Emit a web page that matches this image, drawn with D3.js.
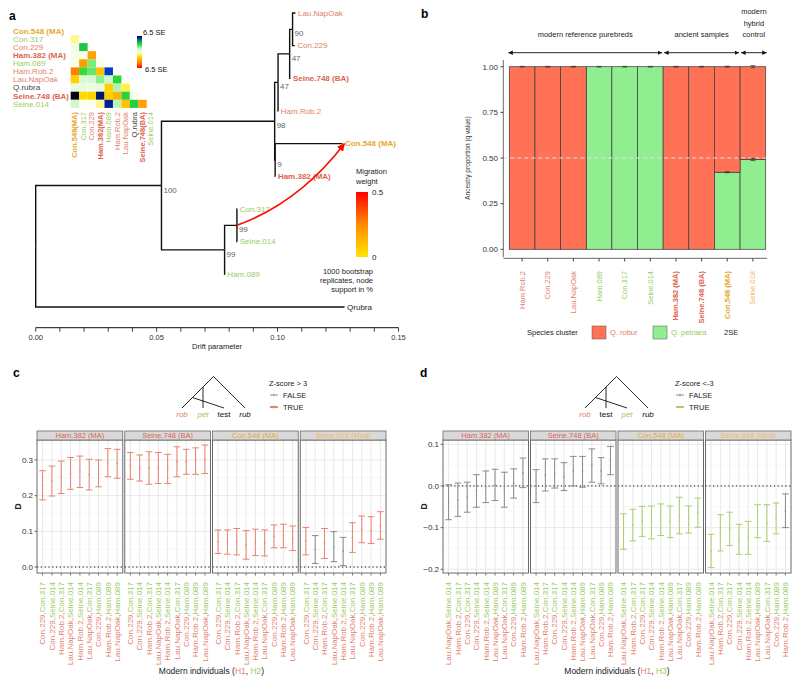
<!DOCTYPE html>
<html lang="en">
<head>
<meta charset="UTF-8">
<title>Oak ancestry figure</title>
<script src="https://d3js.org/d3.v7.min.js"></script>
<style>
  body { margin: 0; background: #fff; }
  svg { display: block; font-family: 'Liberation Sans', Arial, sans-serif; }
  .nar { font-family: 'Liberation Sans Narrow', 'Arial Narrow', 'Liberation Sans', Arial, sans-serif; }
</style>
</head>
<body>
<svg id="fig" width="800" height="687"></svg>
<script>
// ---------- data : panel a (TreeMix tree) ----------
const treeLeaves = ["Lau.NapOak", "Con.229", "Seine.748 (BA)", "Ham.Rob.2", "Con.548 (MA)",
  "Ham.382 (MA)", "Con.317", "Seine.014", "Ham.089", "Qrubra"];
const treeNode   = ["root", "N1", "N4", "N6", "N7", "N8", "Lau.NapOak", "Con.229", "Seine.748 (BA)", "Ham.Rob.2",
  "N5", "Con.548 (MA)", "Ham.382 (MA)", "N2", "N3", "Con.317", "Seine.014", "Ham.089", "Qrubra"];
const treeParent = [null, "root", "N1", "N4", "N6", "N7", "N8", "N8", "N7", "N6",
  "N4", "N5", "N5", "N1", "N2", "N3", "N3", "N2", "root"];
const treeDrift  = [0, 0.052, 0.0988, 0.1002, 0.1050, 0.1062, 0.1074, 0.1071, 0.1053, 0.1003,
  0.0990, 0.1268, 0.0991, 0.0781, 0.0832, 0.0833, 0.0833, 0.0782, 0.1277];
const treeSupport = { N1: "100", N4: "98", N6: "47", N7: "47", N8: "90", N5: "9", N2: "99", N3: "99" };
const migration = { from: "N3", to: "Con.548 (MA)", weight: 0.48 };

// residual matrix (lower triangle, SE units)
const popsHeat = ["Con.548 (MA)", "Con.317", "Con.229", "Ham.382 (MA)", "Ham.089", "Ham.Rob.2",
  "Lau.NapOak", "Q.rubra", "Seine.748 (BA)", "Seine.014"];
const residual = [
  [],
  [-0.6],
  [0.3, 3.6],
  [0.2, 0.2, -3.4],
  [0.1, -3.6, 2.2, 0.1],
  [-4.4, 3.0, 2.4, -2.6, 5.4],
  [-2.2, 0.8, 0.9, 2.0, 1.1, 3.2],
  [0.5, 0.5, 0.4, 0.5, -2.2, 1.6, -1.1],
  [6.4, -2.0, -2.1, 6.0, -2.3, -2.9, 3.3, 0.2],
  [1.0, 0.1, 0.1, -0.6, 5.8, 1.5, -2.6, 3.4, -3.5]
];

// ---------- data : panel b (ancestry) ----------
const bSamples = ["Ham.Rob.2", "Con.229", "Lau.NapOak", "Ham.089", "Con.317", "Seine.014",
  "Ham.382 (MA)", "Seine.748 (BA)", "Con.548 (MA)", "Seine.018"];
const bPetraea = [0, 0, 0, 1, 1, 1, 0, 0, 0.422, 0.492];
const bSE2     = [0.002, 0.002, 0.002, 0.002, 0.002, 0.002, 0.002, 0.002, 0.003, 0.006];
const bGroups  = [["modern reference purebreds"], ["ancient samples"], ["modern", "hybrid", "control"]];
const bGroupSize = [6, 3, 1];

// ---------- data : panels c, d (D statistics) ----------
const dFacets = ["Ham.382 (MA)", "Seine.748 (BA)", "Con.548 (MA)", "Seine.018 (Mod)"];
const cLabels = ["Con.229,Con.317", "Con.229,Seine.014", "Ham.Rob.2,Con.317", "Lau.NapOak,Seine.014",
  "Ham.Rob.2,Seine.014", "Lau.NapOak,Con.317", "Con.229,Ham.089", "Ham.Rob.2,Ham.089", "Lau.NapOak,Ham.089"];
const cD = [
  [0.229, 0.241, 0.252, 0.262, 0.267, 0.259, 0.262, 0.293, 0.290],
  [0.283, 0.277, 0.278, 0.278, 0.275, 0.295, 0.295, 0.297, 0.302],
  [0.071, 0.070, 0.071, 0.062, 0.069, 0.068, 0.086, 0.087, 0.080],
  [0.073, 0.049, 0.066, 0.057, 0.044, 0.083, 0.105, 0.103, 0.116]];
const cLo = [
  [0.188, 0.199, 0.206, 0.218, 0.223, 0.216, 0.225, 0.253, 0.249],
  [0.246, 0.241, 0.232, 0.234, 0.234, 0.253, 0.260, 0.260, 0.262],
  [0.038, 0.036, 0.034, 0.022, 0.032, 0.031, 0.054, 0.054, 0.046],
  [0.034, 0.010, 0.024, 0.015, 0.004, 0.041, 0.068, 0.066, 0.078]];
const cHi = [
  [0.270, 0.283, 0.297, 0.307, 0.311, 0.302, 0.300, 0.332, 0.330],
  [0.321, 0.314, 0.323, 0.321, 0.316, 0.337, 0.330, 0.334, 0.342],
  [0.104, 0.104, 0.108, 0.102, 0.106, 0.104, 0.118, 0.120, 0.115],
  [0.111, 0.088, 0.108, 0.099, 0.083, 0.124, 0.143, 0.141, 0.155]];
const cSig = [
  [1, 1, 1, 1, 1, 1, 1, 1, 1],
  [1, 1, 1, 1, 1, 1, 1, 1, 1],
  [1, 1, 1, 1, 1, 1, 1, 1, 1],
  [1, 0, 1, 0, 0, 1, 1, 1, 1]];

const dLabels = ["Lau.NapOak,Seine.014", "Ham.Rob.2,Con.317", "Con.229,Con.317", "Con.229,Seine.014",
  "Ham.Rob.2,Seine.014", "Lau.NapOak,Ham.089", "Lau.NapOak,Con.317", "Con.229,Ham.089", "Ham.Rob.2,Ham.089"];
const dD = [
  [-0.039, -0.033, -0.027, -0.012, -0.002, 0.002, -0.009, 0.006, 0.031],
  [0.000, 0.026, 0.030, 0.022, 0.036, 0.034, 0.049, 0.036, 0.061],
  [-0.109, -0.094, -0.085, -0.087, -0.081, -0.086, -0.071, -0.080, -0.064],
  [-0.156, -0.112, -0.103, -0.128, -0.124, -0.085, -0.089, -0.078, -0.060]];
const dLo = [
  [-0.081, -0.073, -0.063, -0.051, -0.040, -0.035, -0.051, -0.029, -0.004],
  [-0.040, -0.012, -0.005, -0.011, 0.000, -0.003, 0.009, 0.005, 0.027],
  [-0.152, -0.132, -0.121, -0.127, -0.119, -0.124, -0.115, -0.113, -0.099],
  [-0.196, -0.156, -0.143, -0.164, -0.164, -0.124, -0.133, -0.115, -0.100]];
const dHi = [
  [0.003, 0.007, 0.009, 0.027, 0.036, 0.040, 0.033, 0.041, 0.067],
  [0.039, 0.065, 0.065, 0.056, 0.071, 0.071, 0.089, 0.068, 0.095],
  [-0.067, -0.056, -0.049, -0.048, -0.043, -0.048, -0.027, -0.048, -0.029],
  [-0.116, -0.069, -0.063, -0.092, -0.085, -0.045, -0.045, -0.041, -0.019]];
const dSig = [
  [0, 0, 0, 0, 0, 0, 0, 0, 0],
  [0, 0, 0, 0, 0, 0, 0, 0, 0],
  [1, 1, 1, 1, 1, 1, 1, 1, 1],
  [1, 1, 1, 1, 1, 1, 1, 1, 0]];

// ---------- colours ----------
const ROB = "#e2806e", PET = "#9acb62", ANC = "#dc6450", C548 = "#e8a630", MOD = "#f0b860";
const popColor = {
  "Con.548 (MA)": C548, "Con.317": PET, "Con.229": ROB, "Ham.382 (MA)": ANC, "Ham.089": PET,
  "Ham.Rob.2": ROB, "Lau.NapOak": ROB, "Q.rubra": "#444", "Qrubra": "#222", "Seine.748 (BA)": ANC,
  "Seine.014": PET, "Seine.018": MOD, "Seine.018 (Mod)": MOD
};
const isBold = p => /\((MA|BA)\)/.test(p);

const svg = d3.select("#fig");

function panelLetter(t, x, y) {
  svg.append("text").attr("x", x).attr("y", y).text(t)
    .attr("font-size", 12).attr("font-weight", "bold").attr("fill", "#000");
}

// =====================================================================
// panel a
// =====================================================================
panelLetter("a", 9, 20);
const xA = d3.scaleLinear().domain([0, 0.15]).range([35.7, 398.5]);
const yLeaf = d3.scalePoint().domain(treeLeaves).range([13, 307]);

const nodes = treeNode.map((id, i) => ({ id, parent: treeParent[i], drift: treeDrift[i] }));
const byId = Object.fromEntries(nodes.map(n => [n.id, n]));
nodes.forEach(n => { n.children = nodes.filter(m => m.parent === n.id); });
function setY(n) {
  if (!n.children.length) n.y = yLeaf(n.id);
  else n.y = d3.mean(n.children, c => setY(c));
  return n.y;
}
setY(byId.root);

const gA = svg.append("g");
gA.selectAll("path.edge")
  .data(nodes.filter(n => n.parent))
  .join("path")
  .attr("d", n => {
    const p = byId[n.parent];
    return `M${xA(p.drift)},${p.y}V${n.y}H${xA(n.drift)}`;
  })
  .attr("fill", "none").attr("stroke", "#111").attr("stroke-width", 1.4);

gA.selectAll("text.leaf")
  .data(nodes.filter(n => !n.children.length))
  .join("text")
  .attr("x", n => xA(n.drift) + 2.5).attr("y", n => n.y).attr("dy", "0.35em")
  .attr("font-size", 8).attr("font-weight", n => isBold(n.id) ? "bold" : "normal")
  .attr("fill", n => popColor[n.id]).text(n => n.id);

gA.selectAll("text.boot")
  .data(nodes.filter(n => treeSupport[n.id]))
  .join("text")
  .attr("x", n => xA(n.drift) + 2).attr("y", n => n.y + 7)
  .attr("font-size", 8).attr("fill", "#666").text(n => treeSupport[n.id]);

// migration edge
const migCol = d3.scaleLinear().domain([0, 0.25, 0.5]).range(["#ffe400", "#ff8c00", "#ff0000"]);
const defs = svg.append("defs");
defs.append("marker").attr("id", "migHead").attr("viewBox", "0 0 10 10").attr("refX", 9).attr("refY", 5)
  .attr("markerWidth", 5).attr("markerHeight", 5).attr("orient", "auto")
  .append("path").attr("d", "M0,0L10,5L0,10z").attr("fill", migCol(migration.weight));
{
  const a = byId[migration.from], b = byId[migration.to];
  const x0 = xA(a.drift), y0 = a.y, x1 = xA(b.drift) + 2, y1 = b.y;
  const cx = x0 + (x1 - x0) * 0.58, cy = y0 - (y0 - y1) * 0.28;
  gA.append("path").attr("d", `M${x0},${y0}Q${cx},${cy} ${x1},${y1}`)
    .attr("fill", "none").attr("stroke", migCol(migration.weight)).attr("stroke-width", 1.6)
    .attr("marker-end", "url(#migHead)");
}

// migration legend
const gradM = defs.append("linearGradient").attr("id", "gradMig").attr("x1", 0).attr("x2", 0).attr("y1", 0).attr("y2", 1);
[0.5, 0.25, 0].forEach((w, i) => gradM.append("stop").attr("offset", i / 2).attr("stop-color", migCol(w)));
const wScale = d3.scaleLinear().domain([0, 0.5]).range([257, 192]);
gA.append("text").attr("x", 356).attr("y", 174).attr("font-size", 7.5).attr("fill", "#222").text("Migration");
gA.append("text").attr("x", 356).attr("y", 184).attr("font-size", 7.5).attr("fill", "#222").text("weight");
gA.append("rect").attr("x", 356).attr("y", wScale(0.5)).attr("width", 12).attr("height", wScale(0) - wScale(0.5))
  .attr("fill", "url(#gradMig)");
[0.5, 0].forEach(w => gA.append("text").attr("x", 372).attr("y", wScale(w)).attr("dy", "0.35em")
  .attr("font-size", 8).attr("fill", "#222").text(w));
["1000 bootstrap", "replicates, node", "support in %"].forEach((t, i) =>
  gA.append("text").attr("x", 373).attr("y", 274 + i * 9).attr("text-anchor", "end")
    .attr("font-size", 7.5).attr("fill", "#222").text(t));

// drift axis
const axA = gA.append("g").attr("transform", "translate(0,327.7)");
axA.append("line").attr("x1", xA(0)).attr("x2", xA(0.15)).attr("stroke", "#111").attr("stroke-width", 1);
axA.selectAll("line.tk").data(d3.range(0, 16)).join("line")
  .attr("x1", i => xA(i / 100)).attr("x2", i => xA(i / 100)).attr("y1", 0).attr("y2", 4)
  .attr("stroke", "#111").attr("stroke-width", 0.8);
axA.selectAll("text.tl").data([0, 0.05, 0.10, 0.15]).join("text")
  .attr("x", d => xA(d)).attr("y", 12).attr("text-anchor", "middle").attr("font-size", 7.5)
  .attr("fill", "#333").text(d3.format(".2f"));
axA.append("text").attr("x", (xA(0) + xA(0.15)) / 2).attr("y", 21).attr("text-anchor", "middle")
  .attr("font-size", 7.5).attr("fill", "#222").text("Drift parameter");

// residual heatmap
const heatCol = d3.scaleLinear()
  .domain([-6.5, -4.5, -3.0, -1.5, 0, 1.5, 3.0, 4.5, 5.5, 6.5])
  .range(["#ff0000", "#ff8000", "#ffb000", "#ffee00", "#ffffee", "#bbf5bb", "#33dd33", "#00a060", "#0030d0", "#000000"]);
const hx = d3.scaleBand().domain(popsHeat).range([70.7, 70.7 + 10 * 8.45]);
const hy = d3.scaleBand().domain(popsHeat).range([26.9, 26.9 + 10 * 8.1]);
const cells = [];
residual.forEach((row, i) => row.forEach((v, j) => cells.push({ r: popsHeat[i], c: popsHeat[j], v })));
gA.selectAll("rect.cell").data(cells).join("rect")
  .attr("x", d => hx(d.c)).attr("y", d => hy(d.r))
  .attr("width", hx.bandwidth()).attr("height", hy.bandwidth())
  .attr("fill", d => heatCol(d.v));
gA.selectAll("text.rl").data(popsHeat).join("text")
  .attr("x", 13).attr("y", p => hy(p) + hy.bandwidth() / 2).attr("dy", "0.35em")
  .attr("font-size", 8).attr("font-weight", p => isBold(p) ? "bold" : "normal")
  .attr("fill", p => popColor[p]).text(p => p);
gA.selectAll("text.cl").data(popsHeat).join("text")
  .attr("transform", p => `translate(${hx(p) + hx.bandwidth() / 2 + 2.5},112) rotate(-90)`)
  .attr("text-anchor", "end").attr("font-size", 7.5)
  .attr("font-weight", p => isBold(p) ? "bold" : "normal")
  .attr("fill", p => popColor[p]).text(p => p.replace(" (", "("));
// colour bar
const gradH = defs.append("linearGradient").attr("id", "gradHeat").attr("x1", 0).attr("x2", 0).attr("y1", 0).attr("y2", 1);
heatCol.domain().slice().reverse().forEach(v =>
  gradH.append("stop").attr("offset", (6.5 - v) / 13).attr("stop-color", heatCol(v)));
gA.append("rect").attr("x", 137).attr("y", 36).attr("width", 5).attr("height", 32).attr("fill", "url(#gradHeat)");
gA.append("text").attr("x", 143).attr("y", 35).attr("font-size", 7.5).attr("fill", "#111").text("6.5 SE");
gA.append("text").attr("x", 145).attr("y", 72).attr("font-size", 7.5).attr("fill", "#111").text("6.5 SE");

// =====================================================================
// panel b
// =====================================================================
panelLetter("b", 421, 18);
const gB = svg.append("g");
const xB = d3.scaleBand().domain(bSamples).range([509.3, 765.7]);
const yB = d3.scaleLinear().domain([0, 1]).range([249.3, 66.7]);
const ROBF = "#ff7256", PETF = "#90ee90";

gB.selectAll("rect.pet").data(bSamples).join("rect")
  .attr("x", s => xB(s)).attr("width", xB.bandwidth())
  .attr("y", (s, i) => yB(bPetraea[i])).attr("height", (s, i) => yB(0) - yB(bPetraea[i]))
  .attr("fill", PETF).attr("stroke", "#3a3a3a").attr("stroke-width", 0.7);
gB.selectAll("rect.rob").data(bSamples).join("rect")
  .attr("x", s => xB(s)).attr("width", xB.bandwidth())
  .attr("y", yB(1)).attr("height", (s, i) => yB(bPetraea[i]) - yB(1))
  .attr("fill", ROBF).attr("stroke", "#3a3a3a").attr("stroke-width", 0.7);
// 0.5 reference
gB.append("line").attr("x1", 503.3).attr("x2", 767).attr("y1", yB(0.5)).attr("y2", yB(0.5))
  .attr("stroke", "#e4e4e4").attr("stroke-width", 1).attr("stroke-dasharray", "4,3");
// error bars (2SE)
function bErr(cx, v, e) {
  const hw = 2.5;
  gB.append("path").attr("d", `M${cx - hw},${yB(v + e)}H${cx + hw}M${cx},${yB(v + e)}V${yB(v - e)}M${cx - hw},${yB(v - e)}H${cx + hw}`)
    .attr("stroke", "#333").attr("stroke-width", 0.7).attr("fill", "none");
}
bSamples.forEach((s, i) => {
  const cx = xB(s) + xB.bandwidth() / 2;
  bErr(cx, 1, bSE2[i]);
  if (bPetraea[i] > 0 && bPetraea[i] < 1) bErr(cx, bPetraea[i], bSE2[i]);
});
// axes
gB.append("line").attr("x1", 503.3).attr("x2", 503.3).attr("y1", 60).attr("y2", 257).attr("stroke", "#444").attr("stroke-width", 0.8);
gB.append("line").attr("x1", 503.3).attr("x2", 767).attr("y1", 258.3).attr("y2", 258.3).attr("stroke", "#444").attr("stroke-width", 0.8);
[0, 0.25, 0.5, 0.75, 1].forEach(v => {
  gB.append("line").attr("x1", 500.5).attr("x2", 503.3).attr("y1", yB(v)).attr("y2", yB(v)).attr("stroke", "#444");
  gB.append("text").attr("x", 498).attr("y", yB(v)).attr("dy", "0.35em").attr("text-anchor", "end")
    .attr("font-size", 8).attr("fill", "#333").text(d3.format(".2f")(v));
});
bSamples.forEach(s => {
  const cx = xB(s) + xB.bandwidth() / 2;
  gB.append("line").attr("x1", cx).attr("x2", cx).attr("y1", 258.3).attr("y2", 261.5).attr("stroke", "#444");
  gB.append("text").attr("class", "nar").attr("transform", `translate(${cx + 2.5},271) rotate(-90)`)
    .attr("text-anchor", "end").attr("font-size", 7.5)
    .attr("font-weight", isBold(s) ? "bold" : "normal").attr("fill", popColor[s]).text(s);
});
gB.append("text").attr("class", "nar").attr("transform", `translate(470,${yB(0.5)}) rotate(-90)`)
  .attr("text-anchor", "middle").attr("font-size", 6.5).attr("fill", "#333").text("Ancestry proportion (q value)");
// group annotations
defs.append("marker").attr("id", "arr").attr("viewBox", "0 0 10 10").attr("refX", 10).attr("refY", 5)
  .attr("markerWidth", 5).attr("markerHeight", 5).attr("orient", "auto-start-reverse")
  .append("path").attr("d", "M0,0L10,5L0,10z").attr("fill", "#111");
{
  let k = 0;
  bGroups.forEach((lines, gi) => {
    const s0 = bSamples[k], s1 = bSamples[k + bGroupSize[gi] - 1];
    const xa = xB(s0) - (gi === 0 ? 1 : -1), xb = xB(s1) + xB.bandwidth() + (gi === 2 ? 1 : -1);
    gB.append("line").attr("x1", xa).attr("x2", xb).attr("y1", 52.7).attr("y2", 52.7)
      .attr("stroke", "#111").attr("stroke-width", 0.9)
      .attr("marker-start", "url(#arr)").attr("marker-end", "url(#arr)");
    const top = 45 - (lines.length - 1) * 11.5 - 8;
    lines.forEach((t, li) => gB.append("text").attr("x", (xa + xb) / 2).attr("y", top + li * 11.5)
      .attr("text-anchor", "middle").attr("font-size", 7.5).attr("fill", "#222").text(t));
    k += bGroupSize[gi];
  });
}
// legend
gB.append("text").attr("x", 527).attr("y", 332).attr("dy", "0.35em").attr("font-size", 7.5).attr("fill", "#222").text("Species cluster");
[["Q. robur", ROBF, ROB, 592], ["Q. petraea", PETF, PET, 653]].forEach(([t, f, tc, x]) => {
  gB.append("rect").attr("x", x).attr("y", 326).attr("width", 14).attr("height", 13)
    .attr("fill", f).attr("stroke", "#555").attr("stroke-width", 0.5);
  gB.append("text").attr("x", x + 18).attr("y", 332).attr("dy", "0.35em").attr("font-size", 7.5).attr("fill", tc).text(t);
});
gB.append("text").attr("x", 724).attr("y", 332).attr("dy", "0.35em").attr("font-size", 7.5).attr("fill", "#222").text("2SE");

// =====================================================================
// panels c and d
// =====================================================================
function dPanel(o) {
  const g = svg.append("g");
  const gap = 2;
  const pw = (o.right - o.left - 3 * gap) / 4;
  const y = d3.scaleLinear().domain(o.yDomain).range(o.yRange);
  const facetX = d3.scaleBand().domain(dFacets).range([o.left, o.right + gap]);
  dFacets.forEach((f, fi) => {
    const x0 = facetX(f);
    const x = d3.scalePoint().domain(d3.range(o.labels.length)).range([x0, x0 + pw]).padding(0.6);
    g.append("rect").attr("x", x0).attr("y", o.top).attr("width", pw).attr("height", o.bottom - o.top).attr("fill", "#fff");
    o.yMinor.forEach(v => g.append("line").attr("x1", x0).attr("x2", x0 + pw).attr("y1", y(v)).attr("y2", y(v))
      .attr("stroke", "#f3f3f3").attr("stroke-width", 0.6));
    o.yTicks.forEach(v => g.append("line").attr("x1", x0).attr("x2", x0 + pw).attr("y1", y(v)).attr("y2", y(v))
      .attr("stroke", "#e6e6e6").attr("stroke-width", 0.9));
    x.domain().forEach(i => g.append("line").attr("x1", x(i)).attr("x2", x(i)).attr("y1", o.top).attr("y2", o.bottom)
      .attr("stroke", "#e6e6e6").attr("stroke-width", 0.9));
    g.append("line").attr("x1", x0).attr("x2", x0 + pw).attr("y1", y(0)).attr("y2", y(0))
      .attr("stroke", "#111").attr("stroke-width", 1).attr("stroke-dasharray", "1.2,2.6");
    x.domain().forEach(i => {
      const col = o.sig[fi][i] ? o.trueCol : "#8a8a8a";
      const cx = x(i), hw = 3.3;
      g.append("path")
        .attr("d", `M${cx - hw},${y(o.hi[fi][i])}H${cx + hw}M${cx},${y(o.hi[fi][i])}V${y(o.lo[fi][i])}M${cx - hw},${y(o.lo[fi][i])}H${cx + hw}`)
        .attr("stroke", col).attr("stroke-width", 1).attr("fill", "none");
      g.append("circle").attr("cx", cx).attr("cy", y(o.D[fi][i])).attr("r", 0.8).attr("fill", col);
      // x tick + label
      g.append("line").attr("x1", cx).attr("x2", cx).attr("y1", o.bottom).attr("y2", o.bottom + 2.5).attr("stroke", "#333").attr("stroke-width", 0.7);
      const [h1, h2] = o.labels[i].split(",");
      const t = g.append("text").attr("class", "nar")
        .attr("transform", `translate(${cx + 2.8},${o.bottom + 9}) rotate(-90)`)
        .attr("text-anchor", "end").attr("font-size", 8);
      t.append("tspan").attr("fill", ROB).text(h1 + ",");
      t.append("tspan").attr("fill", PET).text(h2);
    });
    g.append("rect").attr("x", x0).attr("y", o.top).attr("width", pw).attr("height", o.bottom - o.top)
      .attr("fill", "none").attr("stroke", "#6a6a6a").attr("stroke-width", 1);
    g.append("rect").attr("x", x0).attr("y", o.top - 9).attr("width", pw).attr("height", 9)
      .attr("fill", "#d9d9d9").attr("stroke", "#6a6a6a").attr("stroke-width", 0.8);
    g.append("text").attr("class", "nar").attr("x", x0 + pw / 2).attr("y", o.top - 4.5).attr("dy", "0.35em")
      .attr("text-anchor", "middle").attr("font-size", 7.5).attr("fill", popColor[f] || ANC).text(f);
  });
  // y axis
  o.yTicks.forEach(v => {
    g.append("line").attr("x1", o.left - 2.5).attr("x2", o.left).attr("y1", y(v)).attr("y2", y(v)).attr("stroke", "#333").attr("stroke-width", 0.7);
    g.append("text").attr("x", o.left - 4).attr("y", y(v)).attr("dy", "0.35em").attr("text-anchor", "end")
      .attr("font-size", 8).attr("fill", "#333").text(d3.format(".1f")(v));
  });
  g.append("text").attr("transform", `translate(${o.left - 16},${(o.top + o.bottom) / 2}) rotate(-90)`)
    .attr("text-anchor", "middle").attr("font-size", 8.5).attr("font-weight", "bold").attr("fill", "#222").text("D");
  // x axis title
  const tt = g.append("text").attr("class", "nar").attr("x", (o.left + o.right) / 2).attr("y", 674)
    .attr("text-anchor", "middle").attr("font-size", 8.5).attr("fill", "#222");
  tt.append("tspan").text("Modern individuals (");
  tt.append("tspan").attr("fill", ROB).text("H1");
  tt.append("tspan").text(", ");
  tt.append("tspan").attr("fill", PET).text(o.h2);
  tt.append("tspan").text(")");

  // cladogram
  const tip = d3.scalePoint().domain(o.tips.map(t => t.name)).range(o.tipRange);
  const xl = o.tipRange[0], xr = o.tipRange[1], base = 408;
  const h = (xr - xl) / 2, apx = xl + h, apy = base - h;
  const cg = g.append("g").attr("stroke", "#111").attr("stroke-width", 0.9).attr("fill", "none");
  cg.append("path").attr("d", `M${xl},${base}L${apx},${apy}L${xr},${base}`);
  o.tips.forEach((t, i) => {
    if (i === 0 || i === o.tips.length - 1) return;
    const tx = tip(t.name), s = (xr - tx) / 2;
    cg.append("path").attr("d", `M${apx - (h - s)},${apy + (h - s)}L${tx},${base}`);
  });
  o.tips.forEach(t => g.append("text").attr("x", tip(t.name)).attr("y", base + 6).attr("dy", "0.35em")
    .attr("text-anchor", "middle").attr("font-size", 8).attr("font-style", t.italic ? "italic" : "normal")
    .attr("fill", t.color).text(t.name));
  // legend
  g.append("text").attr("x", o.legX).attr("y", 383).attr("dy", "0.35em").attr("font-size", 7.5).attr("fill", "#222").text(o.legTitle);
  [["FALSE", "#8a8a8a", 395], ["TRUE", o.trueCol, 407]].forEach(([t, c, yy]) => {
    g.append("path").attr("d", `M${o.legX + 1},${yy}H${o.legX + 9}M${o.legX + 5},${yy - 1.2}V${yy + 1.2}`)
      .attr("stroke", c).attr("stroke-width", t === "TRUE" ? 1.8 : 1);
    g.append("text").attr("x", o.legX + 14).attr("y", yy).attr("dy", "0.35em").attr("font-size", 7.5).attr("fill", "#222").text(t);
  });
}

panelLetter("c", 13, 377);
dPanel({
  left: 37, right: 386, top: 440, bottom: 573,
  yDomain: [0, 0.3], yRange: [567, 460], yTicks: [0, 0.1, 0.2, 0.3], yMinor: [0.05, 0.15, 0.25, 0.35],
  labels: cLabels, D: cD, lo: cLo, hi: cHi, sig: cSig, trueCol: "#e8826e", h2: "H2",
  tips: [{ name: "rob", color: ROB, italic: true }, { name: "pet", color: PET, italic: true },
         { name: "test", color: "#111" }, { name: "rub", color: "#111", italic: true }],
  tipRange: [182, 245], legX: 269, legTitle: "Z-score > 3"
});

panelLetter("d", 420, 377);
dPanel({
  left: 443, right: 791, top: 440, bottom: 573,
  yDomain: [-0.2, 0.1], yRange: [569.3, 444.3], yTicks: [-0.2, -0.1, 0, 0.1], yMinor: [-0.15, -0.05, 0.05],
  labels: dLabels, D: dD, lo: dLo, hi: dHi, sig: dSig, trueCol: "#a8cf6e", h2: "H3",
  tips: [{ name: "rob", color: ROB, italic: true }, { name: "test", color: "#111" },
         { name: "pet", color: PET, italic: true }, { name: "rub", color: "#111", italic: true }],
  tipRange: [585, 648], legX: 675, legTitle: "Z-score <-3"
});
</script>
</body>
</html>
